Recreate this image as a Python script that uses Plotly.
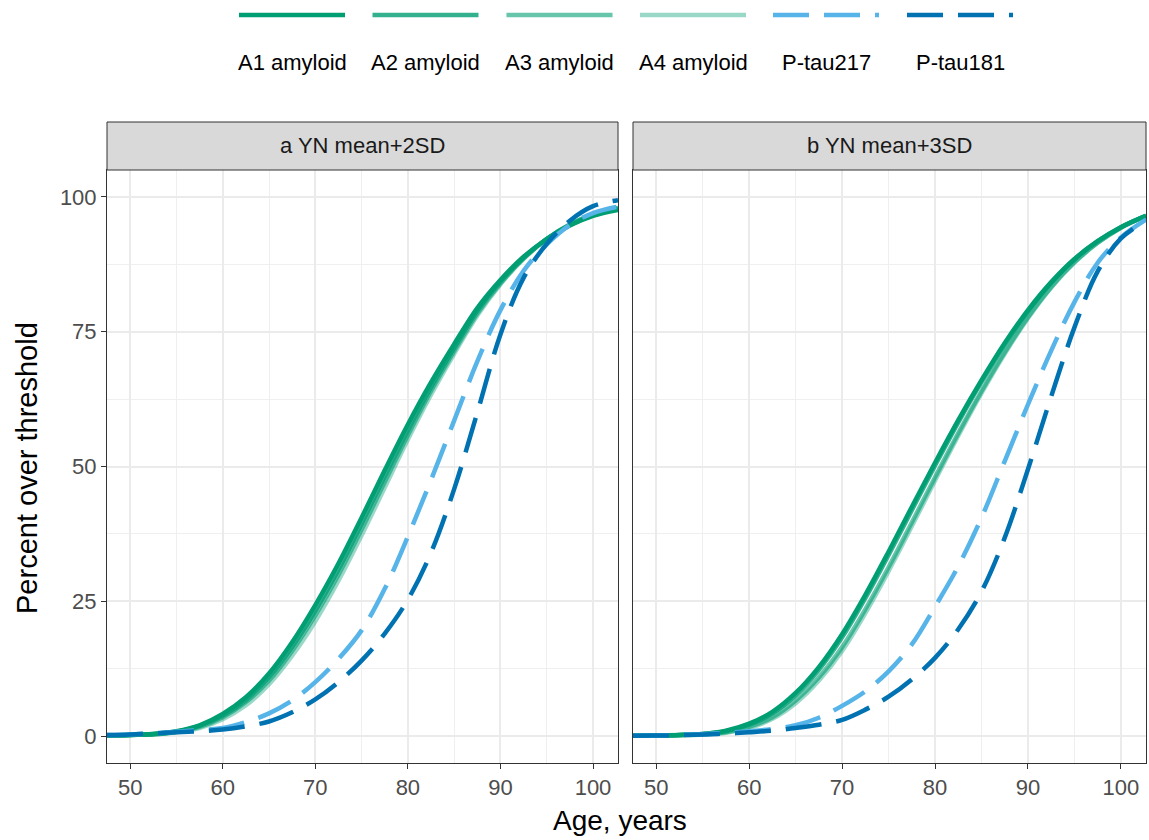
import plotly.graph_objects as go

# ---------------- data ----------------
ages = [47.5, 50, 52.5, 55, 57.5, 60, 62.5, 65, 67.5, 70, 72.5, 75, 77.5,
        80, 82.5, 85, 87.5, 90, 92.5, 95, 97.5, 100, 102.7]

series_names = ["A1 amyloid", "A2 amyloid", "A3 amyloid", "A4 amyloid",
                "P-tau217", "P-tau181"]
panel_titles = ["a YN mean+2SD", "b YN mean+3SD"]

# panel a: YN mean+2SD
a_A1 = [0.1, 0.2, 0.4, 0.9, 2.0, 4.1, 7.2, 11.6, 17.4, 24.3, 32.0, 40.5, 49.3,
        57.8, 65.6, 72.7, 79.4, 84.6, 88.9, 92.2, 94.7, 96.5, 97.6]
a_A2 = [0.1, 0.2, 0.4, 0.8, 1.9, 3.8, 6.7, 10.9, 16.5, 23.2, 30.8, 39.3, 48.1,
        56.7, 64.7, 72.0, 78.9, 84.3, 88.7, 92.2, 94.8, 96.6, 97.8]
a_A3 = [0.1, 0.2, 0.3, 0.8, 1.7, 3.5, 6.3, 10.3, 15.8, 22.4, 29.9, 38.3, 47.1,
        55.8, 64.0, 71.4, 78.4, 84.0, 88.6, 92.2, 94.9, 96.7, 97.9]
a_A4 = [0.1, 0.2, 0.3, 0.7, 1.5, 3.1, 5.7, 9.6, 14.9, 21.3, 28.8, 37.2, 46.1,
        55.0, 63.3, 70.9, 78.0, 83.8, 88.5, 92.2, 94.9, 96.7, 98.0]
a_pt217 = [0.2, 0.3, 0.5, 0.8, 1.1, 1.5, 2.6, 4.2, 6.6, 10.0, 14.3, 19.6, 27.3,
           37.0, 47.5, 58.5, 69.5, 79.0, 86.3, 91.2, 94.8, 97.0, 98.2]
a_pt181 = [0.2, 0.3, 0.5, 0.7, 0.9, 1.2, 1.8, 2.7, 4.4, 6.8, 10.0, 14.0, 19.0,
           25.3, 34.0, 45.8, 60.0, 74.5, 85.0, 91.3, 95.6, 98.3, 99.4]

# panel b: YN mean+3SD
b_A1 = [0.05, 0.1, 0.2, 0.4, 1.0, 2.3, 4.5, 8.0, 12.8, 18.9, 26.2, 34.2, 42.5,
        50.7, 58.6, 66.0, 72.9, 79.0, 84.2, 88.5, 91.8, 94.4, 96.5]
b_A2 = [0.05, 0.1, 0.2, 0.4, 0.9, 2.1, 4.2, 7.6, 12.3, 18.3, 25.6, 33.6, 41.9,
        50.2, 58.2, 65.7, 72.6, 78.8, 84.1, 88.4, 91.8, 94.4, 96.5]
b_A3 = [0.05, 0.1, 0.2, 0.3, 0.7, 1.7, 3.5, 6.6, 10.9, 16.5, 23.5, 31.3, 39.6,
        48.0, 56.2, 64.0, 71.2, 77.7, 83.3, 87.9, 91.5, 94.3, 96.5]
b_A4 = [0.05, 0.1, 0.1, 0.3, 0.6, 1.5, 3.2, 6.1, 10.3, 15.8, 22.8, 30.6, 38.9,
        47.4, 55.7, 63.6, 70.9, 77.5, 83.2, 87.8, 91.5, 94.3, 96.5]
b_pt217 = [0.05, 0.1, 0.2, 0.35, 0.6, 0.9, 1.3, 2.0, 3.4, 5.6, 8.3, 12.0, 17.0,
           24.0, 31.5, 40.5, 51.0, 61.5, 71.5, 80.5, 87.8, 92.5, 95.8]
b_pt181 = [0.05, 0.1, 0.15, 0.3, 0.45, 0.7, 1.0, 1.5, 2.1, 3.0, 4.9, 7.3, 10.5,
           14.5, 19.8, 26.8, 36.8, 49.5, 63.0, 75.8, 86.2, 92.3, 95.6]

x_ticks = [50, 60, 70, 80, 90, 100]
y_ticks = [0, 25, 50, 75, 100]

# ---------------- styles ----------------
colors = ["rgba(0,158,115,1)", "rgba(0,158,115,0.8)", "rgba(0,158,115,0.6)",
          "rgba(0,158,115,0.4)", "#56B4E9", "#0072B2"]
dashes = ["solid", "solid", "solid", "solid", "36px,15px", "36px,15px"]
LW = 4.5
FONT = "Liberation Sans, Arial, sans-serif"

W, H = 1149, 840
ML, MR, MT, MB = 107, 3, 122, 77
PW, PH = W - ML - MR, H - MT - MB


def px_x(p):
    return (p - ML) / PW


def px_y(p):
    return (H - MB - p) / PH


fig = go.Figure()
panels = [
    ("x", "y", [a_A1, a_A2, a_A3, a_A4, a_pt217, a_pt181]),
    ("x2", "y2", [b_A1, b_A2, b_A3, b_A4, b_pt217, b_pt181]),
]
for xa, ya, data in panels:
    for name, vals, col, dsh in zip(series_names, data, colors, dashes):
        fig.add_trace(go.Scatter(
            x=ages, y=vals, mode="lines", name=name, xaxis=xa, yaxis=ya,
            line=dict(color=col, width=LW, dash=dsh, shape="spline", smoothing=1.0),
            showlegend=False, hoverinfo="skip"))

dom_a = [0, px_x(618)]
dom_b = [px_x(633), 1]
y_dom = [0, px_y(170)]

grid_major = "#EBEBEB"
grid_minor = "#EFEFEF"
axis_common = dict(
    showline=True, mirror=True, linecolor="#333333", linewidth=1,
    showgrid=True, gridcolor=grid_major, gridwidth=1.7, zeroline=False,
    ticks="outside", ticklen=5, tickcolor="#333333", tickwidth=1,
    tickfont=dict(family=FONT, size=22, color="#4D4D4D"),
)
xcommon = dict(axis_common, range=[47.5, 102.7], tickvals=x_ticks,
               minor=dict(tickvals=[55, 65, 75, 85, 95], showgrid=True,
                          gridcolor=grid_minor, gridwidth=1.3, ticks=""))
ycommon = dict(axis_common, range=[-5, 105], tickvals=y_ticks,
               minor=dict(tickvals=[12.5, 37.5, 62.5, 87.5], showgrid=True,
                          gridcolor=grid_minor, gridwidth=1.3, ticks=""))

fig.update_layout(
    width=W, height=H,
    margin=dict(l=ML, r=MR, t=MT, b=MB),
    paper_bgcolor="white", plot_bgcolor="white",
    showlegend=False,
    xaxis=dict(xcommon, domain=dom_a, anchor="y"),
    xaxis2=dict(xcommon, domain=dom_b, anchor="y2"),
    yaxis=dict(ycommon, domain=y_dom, anchor="x"),
    yaxis2=dict(ycommon, domain=y_dom, anchor="x2", matches="y",
                showticklabels=False, ticks=""),
)

shapes = []
annotations = []
# strips
for dom, title in zip([dom_a, dom_b], panel_titles):
    shapes.append(dict(type="rect", xref="paper", yref="paper",
                       x0=dom[0], x1=dom[1], y0=px_y(170), y1=px_y(122),
                       fillcolor="#D9D9D9", line=dict(color="#333333", width=1),
                       layer="above"))
    annotations.append(dict(xref="paper", yref="paper", x=(dom[0] + dom[1]) / 2,
                            y=px_y(146), text=title, showarrow=False,
                            font=dict(family=FONT, size=22, color="#1A1A1A"),
                            xanchor="center", yanchor="middle"))

# axis titles
annotations.append(dict(xref="paper", yref="paper", x=px_x(620), y=px_y(820),
                        text="Age, years", showarrow=False,
                        font=dict(family=FONT, size=28, color="#000000"),
                        xanchor="center", yanchor="middle"))
annotations.append(dict(xref="paper", yref="paper", x=px_x(27), y=px_y(468),
                        text="Percent over threshold", showarrow=False, textangle=-90,
                        font=dict(family=FONT, size=29, color="#000000"),
                        xanchor="center", yanchor="middle"))

# legend (keys above labels)
key_centers = [292, 425.5, 559.5, 693, 826, 960]
key_half = 53
for cx, name, col, dsh in zip(key_centers, series_names, colors, dashes):
    shapes.append(dict(type="line", xref="paper", yref="paper",
                       x0=px_x(cx - key_half), x1=px_x(cx + key_half),
                       y0=px_y(15), y1=px_y(15),
                       line=dict(color=col, width=LW, dash=dsh)))
    annotations.append(dict(xref="paper", yref="paper", x=px_x(cx), y=px_y(62),
                            text=name, showarrow=False,
                            font=dict(family=FONT, size=22, color="#000000"),
                            xanchor="center", yanchor="middle"))

fig.update_layout(shapes=shapes, annotations=annotations)
fig.write_html("out.html")
